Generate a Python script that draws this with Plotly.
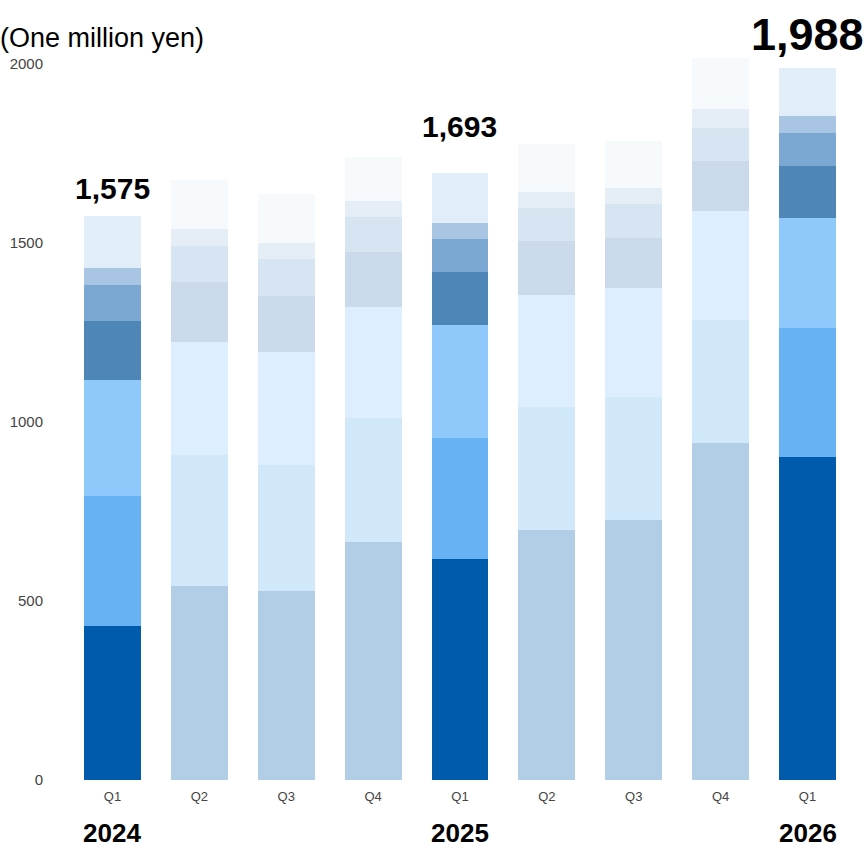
import plotly.graph_objects as go

# Quarterly periods shown on the x axis
periods = ["2024-Q1", "2024-Q2", "2024-Q3", "2024-Q4",
           "2025-Q1", "2025-Q2", "2025-Q3", "2025-Q4", "2026-Q1"]
quarter_labels = ["Q1", "Q2", "Q3", "Q4", "Q1", "Q2", "Q3", "Q4", "Q1"]
year_labels = {"2024-Q1": "2024", "2025-Q1": "2025", "2026-Q1": "2026"}

# Stacked components, bottom to top (one million yen)
seg1 = [431, 542, 528, 665, 618, 698, 726, 942, 902]
seg2 = [362, 364, 351, 346, 337, 344, 344, 342, 361]
seg3 = [323, 316, 315, 310, 316, 313, 304, 304, 307]
seg4 = [165, 167, 158, 152, 146, 149, 139, 140, 143]
seg5 = [102, 102, 103, 99, 93, 94, 94, 93, 93]
seg6 = [47, 46, 45, 43, 44, 43, 46, 52, 47]
seg7 = [145, 139, 136, 125, 139, 135, 132, 141, 135]

segments = [seg1, seg2, seg3, seg4, seg5, seg6, seg7]
colors = ["#005BAC", "#66B2F2", "#8FC9FC", "#4F86B8", "#7BA8D3", "#A8C6E3", "#E1EEF9"]

# Q1 bars are emphasised, the other quarters are faded
highlight = [q == "Q1" for q in quarter_labels]
opacities = [1.0 if h else 0.3 for h in highlight]

# Text styling for the total labels (font size, vertical lift in px)
total_style = {"2024-Q1": (30, 9), "2025-Q1": (30, 28), "2026-Q1": (45, 6)}

FONT = "Liberation Sans, Arial, sans-serif"

fig = go.Figure()
for vals, col in zip(segments, colors):
    fig.add_trace(go.Bar(
        x=periods, y=vals,
        marker=dict(color=col, opacity=opacities, line=dict(width=0)),
        hoverinfo="skip", showlegend=False,
    ))

totals = [sum(v) for v in zip(*segments)]

annotations = []
# Totals above the highlighted bars
for p, tot in zip(periods, totals):
    if p not in total_style:
        continue
    size, lift = total_style[p]
    annotations.append(dict(
        x=p, y=tot, xref="x", yref="y", text=f"<b>{tot:,}</b>",
        showarrow=False, yanchor="bottom", yshift=lift,
        font=dict(family=FONT, size=size, color="#000000"),
    ))

# Year labels under the Q1 ticks
for p, yr in year_labels.items():
    annotations.append(dict(
        x=p, y=-0.0715, xref="x", yref="paper", text=f"<b>{yr}</b>",
        showarrow=False, yanchor="middle",
        font=dict(family=FONT, size=26, color="#000000"),
    ))

W, H = 866, 848
fig.update_layout(
    width=W, height=H, autosize=False,
    barmode="stack", bargap=0.345,
    plot_bgcolor="white", paper_bgcolor="white",
    margin=dict(l=69, r=0, t=42, b=H - 780, autoexpand=False),
    font=dict(family=FONT),
    title=dict(
        text="(One million yen)", x=0, xref="container", xanchor="left",
        y=1 - 38 / H, yref="container", yanchor="middle",
        font=dict(family=FONT, size=27, color="#000000"), pad=dict(l=0, t=0, b=0, r=0),
    ),
    xaxis=dict(
        tickvals=periods, ticktext=quarter_labels, automargin=False,
        showgrid=False, zeroline=False, showline=False,
        ticks="outside", ticklen=4, tickcolor="rgba(0,0,0,0)",
        tickfont=dict(family=FONT, size=13, color="#444444"),
    ),
    yaxis=dict(
        range=[0, 2060], tickvals=[0, 500, 1000, 1500, 2000], tickformat="d",
        automargin=False,
        showgrid=False, zeroline=False, showline=False,
        ticks="outside", ticklen=22, tickcolor="rgba(0,0,0,0)",
        tickfont=dict(family=FONT, size=15, color="#444444"),
    ),
    annotations=annotations,
)

fig.write_html("out.html", config={"displayModeBar": False})
